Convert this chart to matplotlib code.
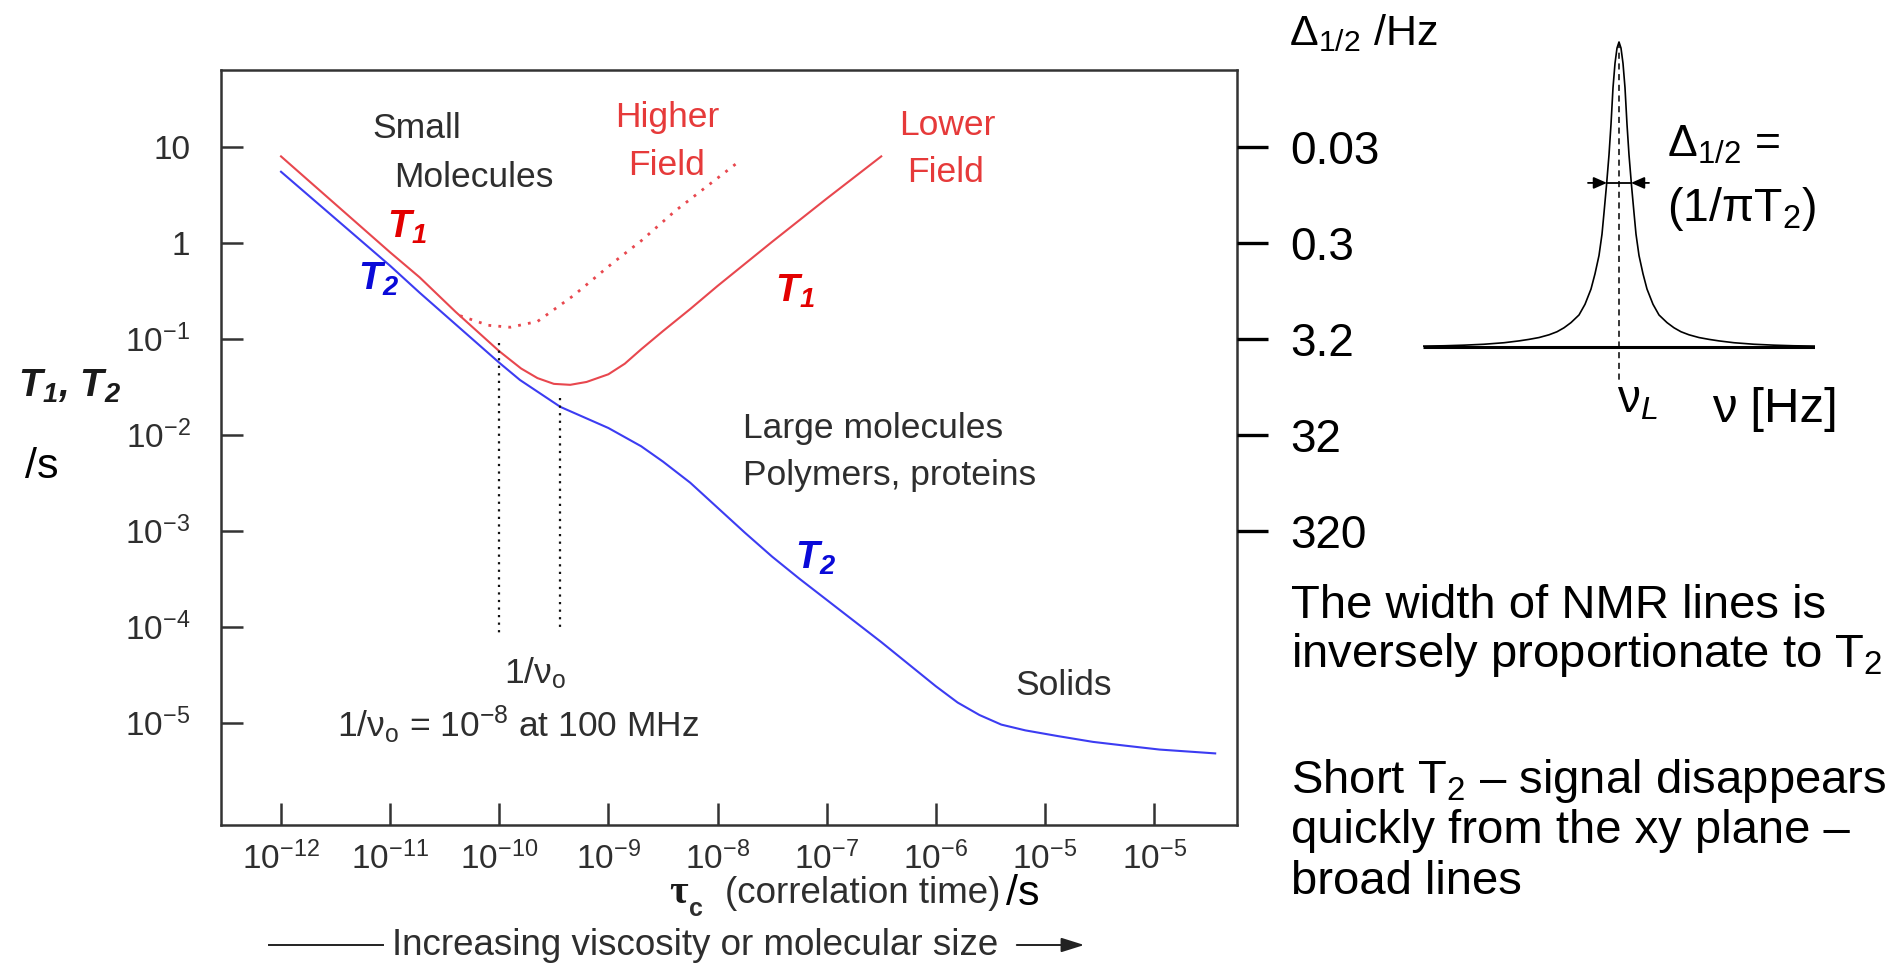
import numpy as np
import matplotlib
matplotlib.use("Agg")
import matplotlib.pyplot as plt
from matplotlib.lines import Line2D
from matplotlib.patches import FancyArrowPatch
from matplotlib.ticker import FixedLocator, FixedFormatter, NullLocator

plt.rcParams['font.family'] = ['Liberation Sans', 'DejaVu Sans']
plt.rcParams['mathtext.fontset'] = 'custom'
plt.rcParams['mathtext.rm'] = 'Liberation Sans'
plt.rcParams['mathtext.it'] = 'Liberation Sans:italic'
plt.rcParams['mathtext.bf'] = 'Liberation Sans:bold'
plt.rcParams['mathtext.default'] = 'regular'

# ---- relaxation data (log10 of correlation time / s, log10 of time / s) ----
t1_low_log_tau = [-12.0, -11.0, -10.73, -10.4, -10.0, -9.8, -9.65, -9.5, -9.35,
                  -9.2, -9.0, -8.85, -8.7, -8.5, -8.25, -8.0, -7.5, -7.0, -6.5]
t1_low_log_T = [0.90, -0.10, -0.36, -0.72, -1.13, -1.31, -1.41, -1.47, -1.48,
                -1.45, -1.37, -1.26, -1.11, -0.92, -0.69, -0.45, 0.01, 0.46,
                0.90]

t1_high_log_tau = [-10.36, -10.1, -9.9, -9.65, -9.32, -8.96, -8.70, -8.39, -7.80]
t1_high_log_T = [-0.76, -0.86, -0.88, -0.82, -0.55, -0.21, 0.02, 0.33, 0.85]

t2_log_tau = [-12.0, -11.0, -10.73, -10.44, -10.0, -9.81, -9.44, -9.0, -8.7,
              -8.5, -8.25, -8.0, -7.75, -7.5, -7.25, -7.0, -6.75, -6.5, -6.25,
              -6.0, -5.8, -5.6, -5.4, -5.18, -4.88, -4.56, -4.26, -3.95, -3.44]
t2_log_T = [0.74, -0.24, -0.52, -0.81, -1.25, -1.43, -1.71, -1.93, -2.12,
            -2.28, -2.50, -2.76, -3.02, -3.27, -3.50, -3.72, -3.94, -4.16,
            -4.39, -4.62, -4.79, -4.92, -5.02, -5.08, -5.14, -5.20, -5.24,
            -5.28, -5.32]

# Larmor period markers: tau, top and bottom (log10 of T)
marker_tau = [1.0e-10, 3.6e-10]
marker_top_log = [-1.04, -1.62]
marker_bottom_log = [-4.08, -4.01]

# ---- axis ticks ----
x_tick_exp = [-12, -11, -10, -9, -8, -7, -6, -5, -4]
x_tick_labels = [r'$10^{-12}$', r'$10^{-11}$', r'$10^{-10}$', r'$10^{-9}$',
                 r'$10^{-8}$', r'$10^{-7}$', r'$10^{-6}$', r'$10^{-5}$',
                 r'$10^{-5}$']
y_tick_exp = [1, 0, -1, -2, -3, -4, -5]
y_tick_labels = ['10', '1', r'$10^{-1}$', r'$10^{-2}$', r'$10^{-3}$',
                 r'$10^{-4}$', r'$10^{-5}$']
# line width (Hz) for the same T2 values
width_labels = ['0.03', '0.3', '3.2', '32', '320']

# ---- Lorentzian line shape (offset from centre, relative height) ----
shape_offset = [0, 2, 4, 6, 8, 10, 12.5, 15, 17, 20, 24, 28, 34, 40, 48, 55,
                62, 70, 80, 90, 100, 115, 135, 155, 175, 196]
shape_height = [1.00, 0.98, 0.93, 0.85, 0.73, 0.63, 0.53, 0.44, 0.37, 0.30,
                0.24, 0.19, 0.14, 0.105, 0.08, 0.063, 0.050, 0.040, 0.031,
                0.025, 0.020, 0.014, 0.009, 0.006, 0.004, 0.003]

W, H = 1904, 965
fig = plt.figure(figsize=(W / 100, H / 100), dpi=100)
fig.patch.set_facecolor('white')


def fx(x):
    return x / W


def fy(y):
    return 1 - y / H


GREY = '#2e2e2e'
RED_LINE = '#e8474e'
RED_TEXT = '#e63a3a'
RED_BOLD = '#e30000'
BLUE_LINE = '#3c3cf2'
BLUE_BOLD = '#0a0ad8'
BODY = 25.5

# ---- main relaxation plot ----
ax = fig.add_axes([fx(221), fy(825), fx(1237) - fx(221), fy(70) - fy(825)])
ax.set_xscale('log')
ax.set_yscale('log')
ax.set_xlim(10 ** -12.55, 10 ** -3.24)
ax.set_ylim(10 ** -6.066, 10 ** 1.80)

ax.plot(10 ** np.array(t1_low_log_tau), 10 ** np.array(t1_low_log_T),
        color=RED_LINE, lw=1.5)
ax.plot(10 ** np.array(t1_high_log_tau), 10 ** np.array(t1_high_log_T),
        color=RED_LINE, lw=2.0, linestyle=(0, (1, 2.6)))
ax.plot(10 ** np.array(t2_log_tau), 10 ** np.array(t2_log_T),
        color=BLUE_LINE, lw=1.5)
for tau, top, bot in zip(marker_tau, marker_top_log, marker_bottom_log):
    ax.plot([tau, tau], [10 ** top, 10 ** bot], color='#111111', lw=1.6,
            linestyle=(0, (1, 2.4)))

ax.xaxis.set_major_locator(FixedLocator([10.0 ** e for e in x_tick_exp]))
ax.xaxis.set_major_formatter(FixedFormatter(x_tick_labels))
ax.yaxis.set_major_locator(FixedLocator([10.0 ** e for e in y_tick_exp]))
ax.yaxis.set_major_formatter(FixedFormatter(y_tick_labels))
ax.xaxis.set_minor_locator(NullLocator())
ax.yaxis.set_minor_locator(NullLocator())
ax.tick_params(axis='both', direction='in', length=16, width=1.8,
               color='#333333', labelsize=24, labelcolor=GREY)
ax.tick_params(axis='x', pad=12)
ax.tick_params(axis='y', pad=22)
for sp in ax.spines.values():
    sp.set_linewidth(1.8)
    sp.set_color('#333333')

# right-hand scale: line width corresponding to T2
ax2 = ax.twinx()
ax2.set_yscale('log')
ax2.set_ylim(ax.get_ylim())
ax2.yaxis.set_major_locator(FixedLocator([10.0 ** e for e in y_tick_exp[:5]]))
ax2.yaxis.set_major_formatter(FixedFormatter(width_labels))
ax2.yaxis.set_minor_locator(NullLocator())
ax2.tick_params(axis='y', direction='out', length=22, width=2.4,
                color='black', labelsize=33, pad=16, labelcolor='black')
for sp in ax2.spines.values():
    sp.set_visible(False)


def txt(x, y, s, size=BODY, color=GREY, ha='left', **kw):
    fig.text(fx(x), fy(y), s, fontsize=size, color=color, ha=ha,
             va='baseline', **kw)


# annotations inside the plot
txt(417, 138, 'Small', ha='center')
txt(474, 187, 'Molecules', ha='center')
txt(667, 127, 'Higher', color=RED_TEXT, ha='center')
txt(667, 175, 'Field', color=RED_TEXT, ha='center')
txt(947, 135, 'Lower', color=RED_TEXT, ha='center')
txt(946, 182, 'Field', color=RED_TEXT, ha='center')
txt(387, 238, r'T$_1$', size=28, color=RED_BOLD, weight='bold', style='italic')
txt(358, 290, r'T$_2$', size=28, color=BLUE_BOLD, weight='bold', style='italic')
txt(775, 302, r'T$_1$', size=28, color=RED_BOLD, weight='bold', style='italic')
txt(743, 438, 'Large molecules')
txt(743, 485, 'Polymers, proteins')
txt(795, 569, r'T$_2$', size=28, color=BLUE_BOLD, weight='bold', style='italic')
txt(1015, 695, 'Solids')
txt(504, 683, r'1/ν$_o$')
txt(337, 737, r'1/ν$_o$ = 10$^{-8}$ at 100 MHz')

# axis titles
txt(18, 397, r'T$_1$, T$_2$', size=28, color='#1a1a1a', weight='bold',
    style='italic')
txt(25, 478, '/s', size=31, color='black')
txt(669, 903, 'τ', size=29, color='#1a1a1a', weight='bold',
    family=['Liberation Serif', 'DejaVu Serif'])
txt(689, 916, 'c', size=18, color=GREY, weight='bold')
txt(725, 903, '(correlation time)', size=26.5)
txt(1006, 905, '/s', size=31, color='black')

# viscosity arrow
fig.add_artist(Line2D([fx(269), fx(383)], [fy(945), fy(945)], color='#222222',
                      lw=1.4))
txt(392, 955, 'Increasing viscosity or molecular size', size=26.5)
fig.add_artist(FancyArrowPatch((fx(1014), fy(945)), (fx(1087), fy(945)),
                               transform=fig.transFigure,
                               arrowstyle='-|>,head_length=0.7,head_width=0.22',
                               mutation_scale=20, color='#222222', lw=1.4))

# ---- right-hand panel ----
txt(1289, 45, r'Δ$_{1/2}$ /Hz', size=31, color='black')

lines = [(618, 'The width of NMR lines is'),
         (667, r'inversely proportionate to T$_2$'),
         (793, r'Short T$_2$ – signal disappears'),
         (843, 'quickly from the xy plane –'),
         (894, 'broad lines')]
for yb, s in lines:
    txt(1291, yb, s, size=34, color='black')

# line-shape sketch
ins = fig.add_axes([fx(1423), fy(400), fx(1815) - fx(1423), fy(30) - fy(400)])
ins.set_xlim(-196, 196)
ins.set_ylim(-(400 - 347) / 305, (347 - 30) / 305)
ins.axis('off')
off = np.array(shape_offset, dtype=float)
hgt = np.array(shape_height)
ins.plot(np.concatenate([-off[::-1], off[1:]]),
         np.concatenate([hgt[::-1], hgt[1:]]), color='black', lw=1.2)
ins.plot([-196, 196], [0, 0], color='black', lw=2.2, solid_capstyle='butt')
ins.plot([0, 0], [1.0, -0.108], color='black', lw=1.1, linestyle=(0, (4, 3)))
half_y = 0.538
ins.plot([-12, 12], [half_y, half_y], color='black', lw=1.3)
for x0, x1 in [(-31, -12), (30, 12)]:
    ins.annotate('', xy=(x1, half_y), xytext=(x0, half_y),
                 arrowprops=dict(arrowstyle='-|>,head_length=0.5,head_width=0.22',
                                 mutation_scale=16, color='black', lw=1.3,
                                 shrinkA=0, shrinkB=0))

txt(1667, 157, r'Δ$_{1/2}$ =', size=32, color='black')
txt(1667, 221, r'(1/πT$_2$)', size=33.5, color='black')
txt(1617, 413, r'ν$_{\mathit{L}}$', size=33, color='black')
txt(1712, 422, 'ν [Hz]', size=35.5, color='black')

fig.savefig('out.png', dpi=100)
